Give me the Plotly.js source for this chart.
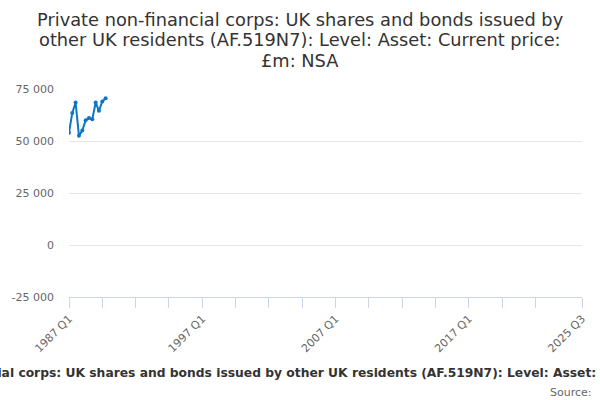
<!DOCTYPE html>
<html>
<head>
<meta charset="utf-8">
<script src="https://cdn.plot.ly/plotly-3.0.1.min.js"></script>
<style>html,body{margin:0;padding:0;background:#fff}#chart{width:600px;height:400px}</style>
</head>
<body>
<div id="chart"></div>
<script>
const quarters = ['1987-01-01','1987-04-01','1987-07-01','1987-10-01','1988-01-01','1988-04-01','1988-07-01','1988-10-01','1989-01-01','1989-04-01','1989-07-01','1989-10-01'];
const values = [54000, 63500, 68500, 52500, 55000, 60000, 61000, 60500, 68500, 64500, 69000, 70500];

const xTickVals = ['1987-01-01','1989-07-01','1992-01-01','1994-07-01','1997-01-01','1999-07-01','2002-01-01','2004-07-01','2007-01-01','2009-07-01','2012-01-01','2014-07-01','2017-01-01','2019-07-01','2022-01-01','2025-07-01'];
const xTickText = ['1987 Q1','','','','1997 Q1','','','','2007 Q1','','','','2017 Q1','','','2025 Q3'];
const yTickVals = [-25000, 0, 25000, 50000, 75000];
const yTickText = ['-25 000', '0', '25 000', '50 000', '75 000'];

const titleLines = ['Private non-financial corps: UK shares and bonds issued by', 'other UK residents (AF.519N7): Level: Asset: Current price:', '£m: NSA'];
const seriesName = 'Private non-financial corps: UK shares and bonds issued by other UK residents (AF.519N7): Level: Asset: Current price: £m: NSA';
const sourceText = 'Source:';

const font = 'DejaVu Sans, sans-serif';
const titleY = [1.3365, 1.238, 1.139];

const annotations = titleLines.map((t, i) => ({
  text: t, xref: 'paper', yref: 'paper', x: 0.4503, y: titleY[i], xanchor: 'center', yanchor: 'middle',
  showarrow: false, font: {family: font, size: 17.8, color: '#333'}
}));
annotations.push({text: '<b>' + seriesName + '</b>', xref: 'paper', yref: 'paper', x: 0.480, y: -0.363, xanchor: 'center', yanchor: 'middle', showarrow: false, font: {family: font, size: 12.3, color: '#333'}});
annotations.push({text: sourceText, xref: 'paper', yref: 'paper', x: 1.024, y: -0.457, xanchor: 'right', yanchor: 'middle', showarrow: false, font: {family: font, size: 11, color: '#666'}});

Plotly.newPlot('chart', [{
  x: quarters, y: values, type: 'scatter', mode: 'lines+markers',
  line: {color: '#0d76c4', width: 2},
  marker: {color: '#0d76c4', size: 4},
  hoverinfo: 'skip'
}], {
  width: 600, height: 400,
  margin: {l: 69, r: 18, t: 89, b: 103},
  paper_bgcolor: '#fff', plot_bgcolor: '#fff',
  showlegend: false,
  font: {family: font, color: '#666', size: 11},
  xaxis: {
    type: 'date', range: ['1987-01-01', '2025-07-01'],
    tickmode: 'array', tickvals: xTickVals, ticktext: xTickText,
    tickangle: -45, ticks: 'outside', ticklen: 10, tickcolor: '#ccd6eb', tickwidth: 1,
    showline: true, linecolor: '#ccd6eb', linewidth: 1,
    showgrid: false, zeroline: false,
    tickfont: {family: font, size: 11, color: '#666'}
  },
  yaxis: {
    range: [-25000, 75000],
    tickmode: 'array', tickvals: yTickVals, ticktext: yTickText,
    showgrid: true, gridcolor: '#e6e6e6', gridwidth: 1,
    zeroline: false, showline: false, ticks: '',
    ticklabelstandoff: 14,
    tickfont: {family: font, size: 11, color: '#666'}
  },
  annotations: annotations
}, {displayModeBar: false, staticPlot: true});
</script>
</body>
</html>
